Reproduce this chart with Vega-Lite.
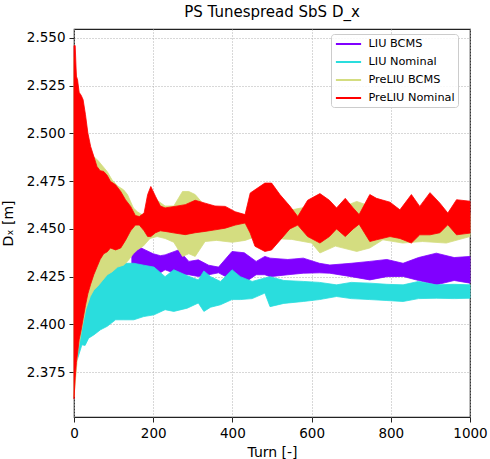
{
  "$schema": "https://vega.github.io/schema/vega-lite/v6.json",
  "width": 396,
  "height": 388,
  "autosize": {"type": "none"},
  "padding": {"left": 74, "top": 29, "right": 20, "bottom": 42},
  "title": {"text": "PS Tunespread SbS D_x", "fontSize": 15, "fontWeight": "normal", "font": "DejaVu Sans", "color": "#000", "anchor": "middle", "offset": 9},
  "datasets": {
    "bands": [
      {"s": "LIU BCMS", "t": 146, "lo": 2.431, "hi": 2.440},
      {"s": "LIU BCMS", "t": 160, "lo": 2.4286, "hi": 2.441},
      {"s": "LIU BCMS", "t": 180, "lo": 2.428, "hi": 2.439},
      {"s": "LIU BCMS", "t": 200, "lo": 2.427, "hi": 2.437},
      {"s": "LIU BCMS", "t": 218, "lo": 2.427, "hi": 2.436},
      {"s": "LIU BCMS", "t": 230, "lo": 2.4286, "hi": 2.4364},
      {"s": "LIU BCMS", "t": 264, "lo": 2.426, "hi": 2.439},
      {"s": "LIU BCMS", "t": 290, "lo": 2.426, "hi": 2.433},
      {"s": "LIU BCMS", "t": 314, "lo": 2.4251, "hi": 2.4338},
      {"s": "LIU BCMS", "t": 340, "lo": 2.426, "hi": 2.431},
      {"s": "LIU BCMS", "t": 365, "lo": 2.427, "hi": 2.430},
      {"s": "LIU BCMS", "t": 399, "lo": 2.4233, "hi": 2.4382},
      {"s": "LIU BCMS", "t": 430, "lo": 2.4217, "hi": 2.4375},
      {"s": "LIU BCMS", "t": 460, "lo": 2.426, "hi": 2.433},
      {"s": "LIU BCMS", "t": 482, "lo": 2.426, "hi": 2.4356},
      {"s": "LIU BCMS", "t": 495, "lo": 2.425, "hi": 2.4347},
      {"s": "LIU BCMS", "t": 540, "lo": 2.426, "hi": 2.434},
      {"s": "LIU BCMS", "t": 579, "lo": 2.4268, "hi": 2.4347},
      {"s": "LIU BCMS", "t": 620, "lo": 2.427, "hi": 2.432},
      {"s": "LIU BCMS", "t": 646, "lo": 2.4268, "hi": 2.4311},
      {"s": "LIU BCMS", "t": 700, "lo": 2.425, "hi": 2.432},
      {"s": "LIU BCMS", "t": 747, "lo": 2.4233, "hi": 2.433},
      {"s": "LIU BCMS", "t": 790, "lo": 2.425, "hi": 2.434},
      {"s": "LIU BCMS", "t": 831, "lo": 2.4251, "hi": 2.432},
      {"s": "LIU BCMS", "t": 870, "lo": 2.423, "hi": 2.435},
      {"s": "LIU BCMS", "t": 915, "lo": 2.4207, "hi": 2.4373},
      {"s": "LIU BCMS", "t": 960, "lo": 2.423, "hi": 2.435},
      {"s": "LIU BCMS", "t": 1000, "lo": 2.4216, "hi": 2.4356},

      {"s": "LIU Nominal", "t": 4, "lo": 2.380, "hi": 2.385},
      {"s": "LIU Nominal", "t": 9, "lo": 2.382, "hi": 2.389},
      {"s": "LIU Nominal", "t": 20, "lo": 2.3893, "hi": 2.400},
      {"s": "LIU Nominal", "t": 28, "lo": 2.389, "hi": 2.407},
      {"s": "LIU Nominal", "t": 37, "lo": 2.3928, "hi": 2.413},
      {"s": "LIU Nominal", "t": 50, "lo": 2.3945, "hi": 2.419},
      {"s": "LIU Nominal", "t": 67, "lo": 2.3972, "hi": 2.424},
      {"s": "LIU Nominal", "t": 84, "lo": 2.399, "hi": 2.428},
      {"s": "LIU Nominal", "t": 105, "lo": 2.4024, "hi": 2.431},
      {"s": "LIU Nominal", "t": 126, "lo": 2.4024, "hi": 2.432},
      {"s": "LIU Nominal", "t": 151, "lo": 2.4024, "hi": 2.432},
      {"s": "LIU Nominal", "t": 176, "lo": 2.4041, "hi": 2.431},
      {"s": "LIU Nominal", "t": 202, "lo": 2.405, "hi": 2.430},
      {"s": "LIU Nominal", "t": 230, "lo": 2.4077, "hi": 2.425},
      {"s": "LIU Nominal", "t": 252, "lo": 2.4068, "hi": 2.4286},
      {"s": "LIU Nominal", "t": 286, "lo": 2.4085, "hi": 2.4255},
      {"s": "LIU Nominal", "t": 314, "lo": 2.4112, "hi": 2.4233},
      {"s": "LIU Nominal", "t": 328, "lo": 2.4068, "hi": 2.428},
      {"s": "LIU Nominal", "t": 345, "lo": 2.409, "hi": 2.425},
      {"s": "LIU Nominal", "t": 370, "lo": 2.4103, "hi": 2.4225},
      {"s": "LIU Nominal", "t": 399, "lo": 2.413, "hi": 2.4286},
      {"s": "LIU Nominal", "t": 420, "lo": 2.413, "hi": 2.425},
      {"s": "LIU Nominal", "t": 450, "lo": 2.4135, "hi": 2.4225},
      {"s": "LIU Nominal", "t": 482, "lo": 2.4164, "hi": 2.4243},
      {"s": "LIU Nominal", "t": 495, "lo": 2.4093, "hi": 2.425},
      {"s": "LIU Nominal", "t": 530, "lo": 2.411, "hi": 2.423},
      {"s": "LIU Nominal", "t": 579, "lo": 2.412, "hi": 2.4225},
      {"s": "LIU Nominal", "t": 620, "lo": 2.413, "hi": 2.422},
      {"s": "LIU Nominal", "t": 663, "lo": 2.4146, "hi": 2.4207},
      {"s": "LIU Nominal", "t": 700, "lo": 2.4135, "hi": 2.422},
      {"s": "LIU Nominal", "t": 747, "lo": 2.413, "hi": 2.4216},
      {"s": "LIU Nominal", "t": 790, "lo": 2.4125, "hi": 2.421},
      {"s": "LIU Nominal", "t": 831, "lo": 2.412, "hi": 2.4207},
      {"s": "LIU Nominal", "t": 870, "lo": 2.4135, "hi": 2.4225},
      {"s": "LIU Nominal", "t": 915, "lo": 2.4137, "hi": 2.4207},
      {"s": "LIU Nominal", "t": 960, "lo": 2.4135, "hi": 2.421},
      {"s": "LIU Nominal", "t": 1000, "lo": 2.4137, "hi": 2.4207},

      {"s": "PreLIU BCMS", "t": 0, "lo": 2.362, "hi": 2.540},
      {"s": "PreLIU BCMS", "t": 10, "lo": 2.386, "hi": 2.524},
      {"s": "PreLIU BCMS", "t": 20, "lo": 2.398, "hi": 2.515},
      {"s": "PreLIU BCMS", "t": 30, "lo": 2.408, "hi": 2.505},
      {"s": "PreLIU BCMS", "t": 41, "lo": 2.4146, "hi": 2.490},
      {"s": "PreLIU BCMS", "t": 50, "lo": 2.418, "hi": 2.4878},
      {"s": "PreLIU BCMS", "t": 60, "lo": 2.420, "hi": 2.486},
      {"s": "PreLIU BCMS", "t": 72, "lo": 2.423, "hi": 2.483},
      {"s": "PreLIU BCMS", "t": 84, "lo": 2.426, "hi": 2.480},
      {"s": "PreLIU BCMS", "t": 96, "lo": 2.4275, "hi": 2.4757},
      {"s": "PreLIU BCMS", "t": 110, "lo": 2.430, "hi": 2.4725},
      {"s": "PreLIU BCMS", "t": 125, "lo": 2.431, "hi": 2.4705},
      {"s": "PreLIU BCMS", "t": 135, "lo": 2.433, "hi": 2.468},
      {"s": "PreLIU BCMS", "t": 150, "lo": 2.437, "hi": 2.461},
      {"s": "PreLIU BCMS", "t": 160, "lo": 2.439, "hi": 2.459},
      {"s": "PreLIU BCMS", "t": 175, "lo": 2.441, "hi": 2.457},
      {"s": "PreLIU BCMS", "t": 192, "lo": 2.445, "hi": 2.462},
      {"s": "PreLIU BCMS", "t": 210, "lo": 2.446, "hi": 2.465},
      {"s": "PreLIU BCMS", "t": 230, "lo": 2.445, "hi": 2.462},
      {"s": "PreLIU BCMS", "t": 252, "lo": 2.443, "hi": 2.462},
      {"s": "PreLIU BCMS", "t": 274, "lo": 2.4356, "hi": 2.4696},
      {"s": "PreLIU BCMS", "t": 290, "lo": 2.437, "hi": 2.4696},
      {"s": "PreLIU BCMS", "t": 306, "lo": 2.4356, "hi": 2.468},
      {"s": "PreLIU BCMS", "t": 331, "lo": 2.4434, "hi": 2.462},
      {"s": "PreLIU BCMS", "t": 360, "lo": 2.444, "hi": 2.460},
      {"s": "PreLIU BCMS", "t": 400, "lo": 2.443, "hi": 2.459},
      {"s": "PreLIU BCMS", "t": 432, "lo": 2.444, "hi": 2.457},
      {"s": "PreLIU BCMS", "t": 460, "lo": 2.446, "hi": 2.460},
      {"s": "PreLIU BCMS", "t": 500, "lo": 2.445, "hi": 2.462},
      {"s": "PreLIU BCMS", "t": 550, "lo": 2.4445, "hi": 2.460},
      {"s": "PreLIU BCMS", "t": 600, "lo": 2.4426, "hi": 2.462},
      {"s": "PreLIU BCMS", "t": 621, "lo": 2.4374, "hi": 2.460},
      {"s": "PreLIU BCMS", "t": 660, "lo": 2.441, "hi": 2.460},
      {"s": "PreLIU BCMS", "t": 714, "lo": 2.4382, "hi": 2.4644},
      {"s": "PreLIU BCMS", "t": 747, "lo": 2.440, "hi": 2.462},
      {"s": "PreLIU BCMS", "t": 780, "lo": 2.4443, "hi": 2.458},
      {"s": "PreLIU BCMS", "t": 830, "lo": 2.4426, "hi": 2.458},
      {"s": "PreLIU BCMS", "t": 880, "lo": 2.4434, "hi": 2.459},
      {"s": "PreLIU BCMS", "t": 940, "lo": 2.4426, "hi": 2.458},
      {"s": "PreLIU BCMS", "t": 1000, "lo": 2.446, "hi": 2.458},

      {"s": "PreLIU Nominal", "t": 0, "lo": 2.361, "hi": 2.546},
      {"s": "PreLIU Nominal", "t": 3, "lo": 2.372, "hi": 2.546},
      {"s": "PreLIU Nominal", "t": 6, "lo": 2.380, "hi": 2.530},
      {"s": "PreLIU Nominal", "t": 9, "lo": 2.385, "hi": 2.528},
      {"s": "PreLIU Nominal", "t": 13, "lo": 2.392, "hi": 2.5215},
      {"s": "PreLIU Nominal", "t": 18, "lo": 2.397, "hi": 2.520},
      {"s": "PreLIU Nominal", "t": 23, "lo": 2.403, "hi": 2.5177},
      {"s": "PreLIU Nominal", "t": 29, "lo": 2.410, "hi": 2.5098},
      {"s": "PreLIU Nominal", "t": 35, "lo": 2.416, "hi": 2.5002},
      {"s": "PreLIU Nominal", "t": 42, "lo": 2.421, "hi": 2.4932},
      {"s": "PreLIU Nominal", "t": 50, "lo": 2.426, "hi": 2.488},
      {"s": "PreLIU Nominal", "t": 58, "lo": 2.430, "hi": 2.4827},
      {"s": "PreLIU Nominal", "t": 66, "lo": 2.434, "hi": 2.4805},
      {"s": "PreLIU Nominal", "t": 75, "lo": 2.437, "hi": 2.4801},
      {"s": "PreLIU Nominal", "t": 84, "lo": 2.438, "hi": 2.478},
      {"s": "PreLIU Nominal", "t": 92, "lo": 2.440, "hi": 2.4749},
      {"s": "PreLIU Nominal", "t": 105, "lo": 2.439, "hi": 2.4731},
      {"s": "PreLIU Nominal", "t": 118, "lo": 2.440, "hi": 2.4696},
      {"s": "PreLIU Nominal", "t": 130, "lo": 2.444, "hi": 2.4653},
      {"s": "PreLIU Nominal", "t": 143, "lo": 2.449, "hi": 2.4618},
      {"s": "PreLIU Nominal", "t": 155, "lo": 2.452, "hi": 2.457},
      {"s": "PreLIU Nominal", "t": 165, "lo": 2.452, "hi": 2.4565},
      {"s": "PreLIU Nominal", "t": 177, "lo": 2.449, "hi": 2.4583},
      {"s": "PreLIU Nominal", "t": 186, "lo": 2.446, "hi": 2.468},
      {"s": "PreLIU Nominal", "t": 194, "lo": 2.446, "hi": 2.4722},
      {"s": "PreLIU Nominal", "t": 206, "lo": 2.448, "hi": 2.467},
      {"s": "PreLIU Nominal", "t": 218, "lo": 2.449, "hi": 2.462},
      {"s": "PreLIU Nominal", "t": 230, "lo": 2.4487, "hi": 2.461},
      {"s": "PreLIU Nominal", "t": 255, "lo": 2.4478, "hi": 2.4618},
      {"s": "PreLIU Nominal", "t": 281, "lo": 2.447, "hi": 2.4627},
      {"s": "PreLIU Nominal", "t": 306, "lo": 2.448, "hi": 2.465},
      {"s": "PreLIU Nominal", "t": 331, "lo": 2.4487, "hi": 2.4635},
      {"s": "PreLIU Nominal", "t": 356, "lo": 2.4495, "hi": 2.462},
      {"s": "PreLIU Nominal", "t": 382, "lo": 2.4504, "hi": 2.4618},
      {"s": "PreLIU Nominal", "t": 407, "lo": 2.452, "hi": 2.459},
      {"s": "PreLIU Nominal", "t": 432, "lo": 2.4531, "hi": 2.4575},
      {"s": "PreLIU Nominal", "t": 445, "lo": 2.4478, "hi": 2.4688},
      {"s": "PreLIU Nominal", "t": 457, "lo": 2.4409, "hi": 2.4705},
      {"s": "PreLIU Nominal", "t": 482, "lo": 2.4382, "hi": 2.474},
      {"s": "PreLIU Nominal", "t": 499, "lo": 2.439, "hi": 2.474},
      {"s": "PreLIU Nominal", "t": 520, "lo": 2.444, "hi": 2.468},
      {"s": "PreLIU Nominal", "t": 545, "lo": 2.450, "hi": 2.462},
      {"s": "PreLIU Nominal", "t": 565, "lo": 2.452, "hi": 2.4565},
      {"s": "PreLIU Nominal", "t": 590, "lo": 2.446, "hi": 2.465},
      {"s": "PreLIU Nominal", "t": 621, "lo": 2.4426, "hi": 2.4685},
      {"s": "PreLIU Nominal", "t": 645, "lo": 2.446, "hi": 2.465},
      {"s": "PreLIU Nominal", "t": 663, "lo": 2.450, "hi": 2.461},
      {"s": "PreLIU Nominal", "t": 685, "lo": 2.446, "hi": 2.466},
      {"s": "PreLIU Nominal", "t": 705, "lo": 2.450, "hi": 2.461},
      {"s": "PreLIU Nominal", "t": 720, "lo": 2.4525, "hi": 2.4575},
      {"s": "PreLIU Nominal", "t": 747, "lo": 2.4434, "hi": 2.468},
      {"s": "PreLIU Nominal", "t": 764, "lo": 2.4443, "hi": 2.466},
      {"s": "PreLIU Nominal", "t": 798, "lo": 2.446, "hi": 2.464},
      {"s": "PreLIU Nominal", "t": 823, "lo": 2.445, "hi": 2.460},
      {"s": "PreLIU Nominal", "t": 852, "lo": 2.4426, "hi": 2.468},
      {"s": "PreLIU Nominal", "t": 873, "lo": 2.4469, "hi": 2.4618},
      {"s": "PreLIU Nominal", "t": 899, "lo": 2.4469, "hi": 2.469},
      {"s": "PreLIU Nominal", "t": 924, "lo": 2.448, "hi": 2.4635},
      {"s": "PreLIU Nominal", "t": 944, "lo": 2.4522, "hi": 2.4583},
      {"s": "PreLIU Nominal", "t": 966, "lo": 2.4469, "hi": 2.4653},
      {"s": "PreLIU Nominal", "t": 1000, "lo": 2.4478, "hi": 2.4645}
    ]
  },
  "data": {"name": "bands"},
  "encoding": {
    "x": {
      "field": "t", "type": "quantitative",
      "scale": {"domain": [0, 1000], "nice": false, "zero": false},
      "axis": {"title": "Turn [-]", "values": [0, 200, 400, 600, 800, 1000], "format": "d", "titlePadding": 6, "labelFlush": false}
    },
    "y": {
      "field": "lo", "type": "quantitative",
      "scale": {"domain": [2.3515, 2.5547], "nice": false, "zero": false},
      "axis": {"title": "Dₓ [m]", "values": [2.375, 2.4, 2.425, 2.45, 2.475, 2.5, 2.525, 2.55], "format": ".3f", "titleX": -62, "titleBaseline": "alphabetic", "labelFlush": false}
    },
    "y2": {"field": "hi"},
    "color": {
      "field": "s", "type": "nominal",
      "scale": {"domain": ["LIU BCMS", "LIU Nominal", "PreLIU BCMS", "PreLIU Nominal"], "range": ["#8000ff", "#2adddd", "#d4dd80", "#ff0000"]},
      "legend": {
        "title": null,
        "orient": "none", "legendX": 257, "legendY": 5,
        "symbolType": "M-2.1,0L2.1,0", "symbolSize": 144, "symbolStrokeWidth": 2,
        "symbolOffset": 7.5, "labelOffset": 13, "rowPadding": 5,
        "labelFontSize": 11.3, "labelFont": "DejaVu Sans", "labelColor": "#000",
        "padding": 3, "fillColor": "rgba(255,255,255,0.85)", "strokeColor": "#cccccc", "cornerRadius": 3
      }
    },
    "stroke": {
      "field": "s", "type": "nominal",
      "scale": {"domain": ["LIU BCMS", "LIU Nominal", "PreLIU BCMS", "PreLIU Nominal"], "range": ["#8000ff", "#2adddd", "#d4dd80", "#ff0000"]},
      "legend": {
        "title": null,
        "orient": "none", "legendX": 257, "legendY": 5,
        "symbolType": "M-2.1,0L2.1,0", "symbolSize": 144, "symbolStrokeWidth": 2,
        "symbolOffset": 7.5, "labelOffset": 13, "rowPadding": 5,
        "labelFontSize": 11.3, "labelFont": "DejaVu Sans", "labelColor": "#000",
        "padding": 3, "fillColor": "rgba(255,255,255,0.85)", "strokeColor": "#cccccc", "cornerRadius": 3
      }
    }
  },
  "layer": [
    {"transform": [{"filter": "datum.s === 'LIU BCMS'"}], "mark": {"type": "area", "opacity": 1, "strokeWidth": 0.8}},
    {"transform": [{"filter": "datum.s === 'LIU Nominal'"}], "mark": {"type": "area", "opacity": 1, "strokeWidth": 0.8}},
    {"transform": [{"filter": "datum.s === 'PreLIU BCMS'"}], "mark": {"type": "area", "opacity": 1, "strokeWidth": 0.8}},
    {"transform": [{"filter": "datum.s === 'PreLIU Nominal'"}], "mark": {"type": "area", "opacity": 1, "strokeWidth": 0.8}}
  ],
  "config": {
    "font": "DejaVu Sans",
    "view": {"stroke": "#222", "strokeWidth": 1.2},
    "axis": {
      "domain": false,
      "grid": true, "gridDash": [1, 2], "gridColor": "#b0b0b0", "gridWidth": 1,
      "ticks": true, "tickSize": 5, "tickColor": "#222", "tickWidth": 1,
      "labelFontSize": 13.5, "labelColor": "#000", "labelPadding": 4, "labelFont": "DejaVu Sans",
      "titleFontSize": 14, "titleFontWeight": "normal", "titleColor": "#000", "titleFont": "DejaVu Sans"
    }
  }
}
